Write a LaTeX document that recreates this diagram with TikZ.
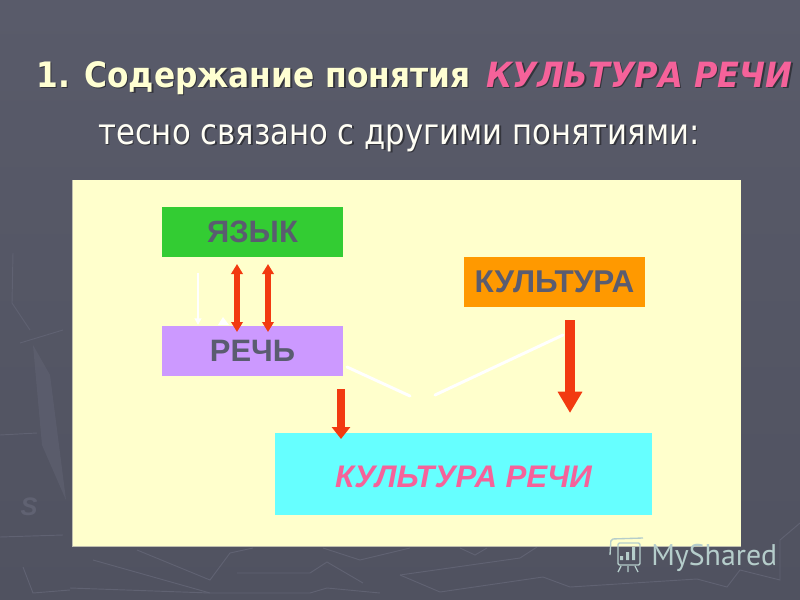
\documentclass[tikz,border=0pt]{standalone}
\usepackage{fontspec}
\usepackage{graphicx}
\setmainfont{Liberation Sans}
\newfontfamily\titlefont{DejaVu Sans}
\newfontfamily\wmfont{PT Sans}
\usetikzlibrary{arrows.meta}
\definecolor{bgtop}{HTML}{595B6A}
\definecolor{bgbot}{HTML}{505260}
\definecolor{bgl}{HTML}{606272}
\definecolor{panel}{HTML}{FFFFCC}
\definecolor{edgec}{HTML}{BEBEAF}
\definecolor{txtc}{HTML}{5A5C70}
\definecolor{redc}{HTML}{F23A10}
\definecolor{pinkc}{HTML}{F5629A}
\definecolor{cream}{HTML}{FFFFD2}
\definecolor{wmc}{HTML}{B5CDCB}
\definecolor{shadowc}{HTML}{33343C}
\newcommand{\shadowtext}[1]{\rlap{\raisebox{-1.2pt}{\hspace{1.2pt}\textcolor{shadowc}{#1}}}#1}
\tikzset{
  x=0.75pt,y=-0.75pt,
  box/.style={draw=none,minimum width=136pt,minimum height=37.5pt,inner sep=0pt,text=txtc,font=\fontsize{23.2}{28}\selectfont\bfseries},
  titletext/.style={anchor=base west,inner sep=0pt,font=\titlefont\fontsize{24}{28}\selectfont},
  whiteline/.style={draw=white,line width=2.2pt,-{Triangle[width=5pt,length=5pt]}},
  whitethin/.style={draw=white,line width=2.2pt,line cap=round},
  redtwo/.style={draw=redc,line width=5pt,{Triangle[width=8.5pt,length=7.5pt]}-{Triangle[width=8.5pt,length=7.5pt]}},
  redone/.style={draw=redc,line width=6pt,-{Triangle[width=13.5pt,length=9pt]}},
  redbig/.style={draw=redc,line width=8.2pt,-{Triangle[width=17.5pt,length=16pt]}},
  faint/.style={draw=bgl,line width=0.7pt},
}
\begin{document}
\begin{tikzpicture}
\useasboundingbox (0,0) rectangle (800,600);
\shade[top color=bgtop,bottom color=bgbot] (0,0) rectangle (800,600);
% faint compass texture
\fill[bgl,opacity=.6] (33,345) -- (50,375) -- (66,500) -- (42,445) -- cycle;
\draw[faint] (13,253) -- (12,303) -- (30,330);
\draw[faint] (20,343) -- (63,330);
\draw[faint] (0,435) -- (37,433);
\draw[faint] (0,537) -- (63,535);
\draw[faint] (23,567) -- (33,593) -- (70,590);
\draw[faint] (137,550) -- (210,580) -- (230,553) -- (253,548);
\draw[faint] (93,560) -- (210,593);
\draw[faint] (70,588) -- (210,593) -- (310,593) -- (327,588) -- (380,593);
\draw[faint] (237,573) -- (310,573) -- (327,562) -- (363,583);
\draw[faint] (400,575) -- (520,558) -- (537,547);
\draw[faint] (400,575) -- (440,592) -- (543,577) -- (570,587) -- (697,579) -- (727,587) -- (740,570) -- (780,580) -- (780,540) -- (800,523);
\draw[faint] (323,548) -- (360,560) -- (410,548);
\draw[faint] (460,548) -- (475,555) -- (487,548);
\node[text=bgl,font=\fontsize{19}{22}\selectfont\bfseries\itshape,inner sep=0pt] (sletter) at (29,507) {S};
% panel
\fill[panel] (72,180) rectangle (741,546);
\draw[edgec,line width=.6pt] (72,180) -- (72,546) -- (741,546);
% title
\node[titletext,text=cream] (t1) at (36,87) {\resizebox{325.5pt}{19.5pt}{\bfseries\shadowtext{1. Содержание понятия}}};
\node[titletext,text=pinkc] (t2) at (486,87) {\resizebox{229.5pt}{19pt}{\bfseries\itshape\shadowtext{КУЛЬТУРА РЕЧИ}}};
\node[titletext,text=white!96!yellow] (t3) at (98,144) {\resizebox{451pt}{15pt}{\shadowtext{тесно связано с другими понятиями:}}};
% boxes
\node[box,fill={rgb,255:red,51;green,204;blue,51}] (yaz) at (252.5,231.5) {ЯЗЫК};
\node[box,fill={rgb,255:red,204;green,153;blue,255}] (rech) at (252.5,351) {РЕЧЬ};
\node[box,fill={rgb,255:red,255;green,153;blue,0},font=\fontsize{23.6}{28}\selectfont\bfseries] (kul) at (554.5,282) {КУЛЬТУРА};
\node[box,fill={rgb,255:red,102;green,255;blue,255},minimum width=282.75pt,minimum height=61.5pt,text=pinkc,font=\fontsize{23.4}{28}\selectfont\bfseries\itshape,text height=20.75pt,text depth=0pt] (kr) at (463.5,474) {КУЛЬТУРА РЕЧИ};
% connector ends
\coordinate (w1a) at (198,273); \coordinate (w1b) at (198,325);
\coordinate (r1a) at (237,264); \coordinate (r1b) at (237,332);
\coordinate (r2a) at (268,264); \coordinate (r2b) at (268,332);
\coordinate (r3a) at (341,389); \coordinate (r3b) at (341,439);
\coordinate (r4a) at (570,320); \coordinate (r4b) at (570,413);
\coordinate (w2a) at (347,367); \coordinate (w2b) at (410,396);
\coordinate (w3a) at (563,335); \coordinate (w3b) at (435,395);
% connectors
\draw[whiteline] (w1a) -- (w1b);
\fill[white] (218,325) -- (223,317) -- (229,325) -- cycle;
\draw[whitethin] (w2a) -- (w2b);
\draw[whitethin] (w3a) -- (w3b);
\draw[redtwo] (r1a) -- (r1b);
\draw[redtwo] (r2a) -- (r2b);
\draw[redone] (r3a) -- (r3b);
\draw[redbig] (r4a) -- (r4b);
% watermark
\node[anchor=base west,inner sep=0pt,text=wmc,font=\wmfont\fontsize{21}{26}\selectfont] (wm) at (651,565) {\resizebox{94.5pt}{!}{MyShared}};
\draw[wmc,line width=1pt,rounded corners=1pt] (618,543) rectangle (640,565);
\draw[wmc,line width=1pt,rounded corners=1.5pt] (610,555) -- (611,539) -- (643,538);
\fill[wmc] (620,556) rectangle (623,560) (626,552) rectangle (629,560) (632,547) rectangle (635,560);
\draw[wmc,line width=1pt] (621,566) -- (618,572) (628,566) -- (628,572) (635,566) -- (638,572);
\end{tikzpicture}
\end{document}
